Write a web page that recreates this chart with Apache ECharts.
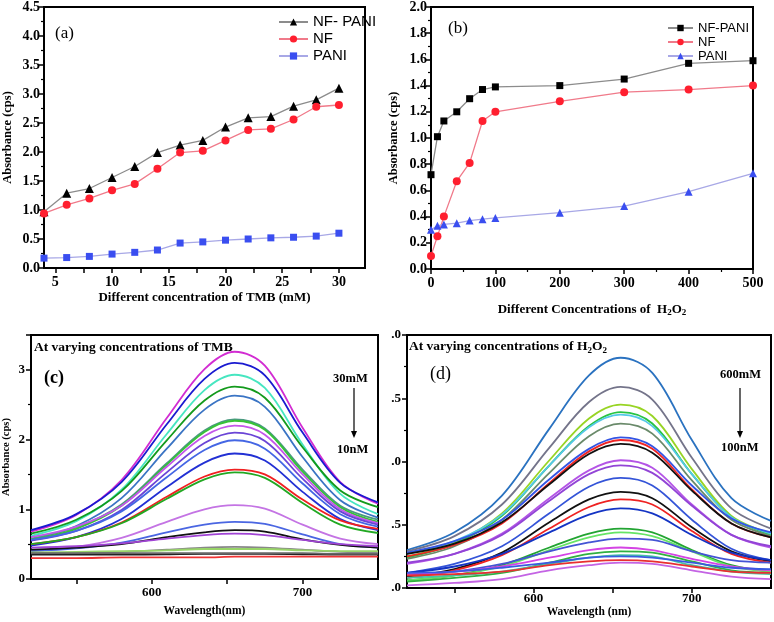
<!DOCTYPE html>
<html><head><meta charset="utf-8">
<script src="https://cdn.jsdelivr.net/npm/echarts@6/dist/echarts.min.js"></script>
<style>html,body{margin:0;padding:0;background:#fff}#c{width:774px;height:622px}</style>
</head><body><div id="c"></div>
<script>
// ---- panel (a): TMB concentration ----
const tmbConc = [4, 6, 8, 10, 12, 14, 16, 18, 20, 22, 24, 26, 28, 30];
const tmbNfPani = [0.97, 1.29, 1.37, 1.56, 1.75, 1.99, 2.12, 2.20, 2.43, 2.59, 2.61, 2.79, 2.90, 3.10];
const tmbNf = [0.94, 1.09, 1.20, 1.34, 1.45, 1.71, 1.99, 2.02, 2.20, 2.38, 2.40, 2.56, 2.78, 2.81];
const tmbPani = [0.17, 0.18, 0.20, 0.24, 0.27, 0.31, 0.43, 0.45, 0.48, 0.50, 0.52, 0.53, 0.55, 0.60];
const tmbTicks = [5, 7.5, 10, 12.5, 15, 17.5, 20, 22.5, 25, 27.5, 30];
const tmbLabels = [5, 10, 15, 20, 25, 30];

// ---- panel (b): H2O2 concentration ----
const h2o2Conc = [0, 10, 20, 40, 60, 80, 100, 200, 300, 400, 500];
const h2o2NfPani = [0.72, 1.01, 1.13, 1.20, 1.30, 1.37, 1.39, 1.40, 1.45, 1.57, 1.59];
const h2o2Nf = [0.10, 0.25, 0.40, 0.67, 0.81, 1.13, 1.20, 1.28, 1.35, 1.37, 1.40];
const h2o2Pani = [0.30, 0.33, 0.34, 0.35, 0.37, 0.38, 0.39, 0.43, 0.48, 0.59, 0.73];

// ---- panels (c),(d): spectra ----
const wavelengths = [520, 550, 580, 610, 635, 655, 675, 700, 725, 750];
const wlTicks = [550, 600, 650, 700];
const wlLabels = [600, 700];
const tmbSpectra = [
  [0.68, 0.92, 1.42, 2.31, 3.01, 3.26, 3.06, 2.17, 1.39, 1.08],
  [0.70, 0.93, 1.39, 2.22, 2.87, 3.10, 2.92, 2.10, 1.38, 1.10],
  [0.62, 0.83, 1.28, 2.08, 2.71, 2.93, 2.74, 1.93, 1.22, 0.93],
  [0.65, 0.85, 1.26, 1.99, 2.56, 2.76, 2.60, 1.89, 1.27, 1.03],
  [0.57, 0.76, 1.16, 1.87, 2.43, 2.63, 2.47, 1.75, 1.13, 0.88],
  [0.58, 0.74, 1.07, 1.66, 2.13, 2.29, 2.16, 1.57, 1.05, 0.85],
  [0.56, 0.72, 1.05, 1.64, 2.11, 2.27, 2.14, 1.54, 1.03, 0.82],
  [0.60, 0.75, 1.05, 1.61, 2.05, 2.20, 2.07, 1.50, 1.00, 0.80],
  [0.55, 0.69, 0.99, 1.53, 1.95, 2.10, 1.98, 1.44, 0.97, 0.78],
  [0.56, 0.69, 0.97, 1.46, 1.85, 1.99, 1.87, 1.37, 0.93, 0.75],
  [0.48, 0.60, 0.86, 1.32, 1.67, 1.80, 1.70, 1.25, 0.86, 0.70],
  [0.50, 0.60, 0.81, 1.18, 1.47, 1.57, 1.50, 1.14, 0.84, 0.72],
  [0.50, 0.60, 0.80, 1.15, 1.43, 1.53, 1.45, 1.09, 0.78, 0.66],
  [0.40, 0.46, 0.59, 0.82, 1.00, 1.06, 1.01, 0.78, 0.58, 0.50],
  [0.40, 0.44, 0.52, 0.67, 0.78, 0.82, 0.79, 0.64, 0.50, 0.45],
  [0.42, 0.45, 0.50, 0.60, 0.67, 0.70, 0.68, 0.57, 0.49, 0.45],
  [0.45, 0.47, 0.51, 0.58, 0.63, 0.65, 0.63, 0.56, 0.50, 0.47],
  [0.36, 0.37, 0.39, 0.42, 0.45, 0.46, 0.45, 0.42, 0.39, 0.38],
  [0.38, 0.39, 0.40, 0.41, 0.43, 0.43, 0.43, 0.41, 0.40, 0.40],
  [0.35, 0.35, 0.35, 0.355, 0.36, 0.36, 0.36, 0.355, 0.35, 0.35],
  [0.30, 0.30, 0.31, 0.31, 0.31, 0.32, 0.32, 0.32, 0.32, 0.32],
  [0.37, 0.37, 0.37, 0.37, 0.37, 0.37, 0.37, 0.37, 0.36, 0.36]
];
const tmbColors = ['#d22cd2', '#1a1ad0', '#46e6c0', '#139a1c', '#3a74c4', '#4a9a80', '#36c236', '#c456ea',
  '#6a44d6', '#4466e4', '#2230d4', '#f02020', '#22a822', '#c474e4', '#4a66e2', '#111111', '#a044d4',
  '#888888', '#98d468', '#222222', '#f03434', '#666666'];
const h2o2Spectra = [
  [0.30, 0.44, 0.73, 1.26, 1.68, 1.82, 1.70, 1.17, 0.71, 0.53],
  [0.29, 0.41, 0.66, 1.11, 1.47, 1.59, 1.49, 1.03, 0.63, 0.47],
  [0.25, 0.36, 0.59, 1.01, 1.34, 1.45, 1.36, 0.94, 0.57, 0.43],
  [0.24, 0.35, 0.57, 0.97, 1.28, 1.39, 1.30, 0.90, 0.56, 0.42],
  [0.27, 0.37, 0.58, 0.97, 1.27, 1.37, 1.28, 0.90, 0.56, 0.43],
  [0.23, 0.33, 0.54, 0.91, 1.20, 1.30, 1.22, 0.85, 0.54, 0.41],
  [0.28, 0.37, 0.54, 0.86, 1.10, 1.19, 1.12, 0.81, 0.55, 0.44],
  [0.25, 0.34, 0.51, 0.83, 1.08, 1.17, 1.10, 0.78, 0.51, 0.40],
  [0.27, 0.35, 0.52, 0.82, 1.06, 1.14, 1.07, 0.77, 0.51, 0.40],
  [0.19, 0.27, 0.43, 0.71, 0.93, 1.01, 0.95, 0.66, 0.42, 0.32],
  [0.20, 0.27, 0.42, 0.69, 0.90, 0.97, 0.91, 0.65, 0.42, 0.33],
  [0.12, 0.19, 0.33, 0.59, 0.80, 0.87, 0.81, 0.54, 0.31, 0.22],
  [0.09, 0.15, 0.28, 0.52, 0.70, 0.76, 0.71, 0.48, 0.29, 0.21],
  [0.08, 0.14, 0.26, 0.47, 0.64, 0.70, 0.66, 0.45, 0.27, 0.20],
  [0.12, 0.17, 0.27, 0.44, 0.58, 0.63, 0.59, 0.42, 0.28, 0.22],
  [0.06, 0.10, 0.18, 0.32, 0.43, 0.47, 0.44, 0.30, 0.18, 0.13],
  [0.06, 0.10, 0.17, 0.30, 0.40, 0.44, 0.41, 0.29, 0.17, 0.13],
  [0.10, 0.13, 0.19, 0.29, 0.36, 0.39, 0.38, 0.29, 0.22, 0.20],
  [0.11, 0.13, 0.17, 0.24, 0.30, 0.32, 0.30, 0.23, 0.17, 0.14],
  [0.05, 0.08, 0.12, 0.20, 0.27, 0.29, 0.28, 0.21, 0.14, 0.12],
  [0.08, 0.10, 0.13, 0.19, 0.24, 0.26, 0.25, 0.18, 0.13, 0.11],
  [0.12, 0.13, 0.16, 0.20, 0.24, 0.25, 0.24, 0.20, 0.16, 0.15],
  [0.10, 0.11, 0.13, 0.18, 0.21, 0.22, 0.21, 0.17, 0.13, 0.12],
  [0.02, 0.04, 0.07, 0.14, 0.18, 0.20, 0.19, 0.14, 0.09, 0.07]
];
const h2o2Colors = ['#2a72c0', '#74748a', '#98d424', '#28c444', '#54c8e8', '#6a8a6a', '#3454e4', '#f02424',
  '#111111', '#b454e6', '#9244d6', '#3454d8', '#111111', '#ee2222', '#1434c4', '#22a432', '#66e466',
  '#4454d4', '#d444e4', '#30b040', '#44c4a4', '#3a5ae0', '#e83030', '#c464e4'];

const SERIF = 'Liberation Serif';
const SANS = 'Liberation Sans';

function pairs(xs, ys) { return xs.map((x, i) => [x, ys[i]]); }

const grids = [
  { left: 42, top: 7, width: 323, height: 261 },
  { left: 431, top: 7, width: 322, height: 262 },
  { left: 31, top: 335, width: 347, height: 244 },
  { left: 407, top: 335, width: 364, height: 253 }
].map(g => Object.assign(g, { show: true, borderColor: '#000', borderWidth: 2, backgroundColor: 'transparent' }));

const axLine = { show: true, onZero: false, lineStyle: { color: '#000', width: 2 } };
const tick = { show: true, inside: false, length: 5, lineStyle: { color: '#000', width: 1.5 } };
const minor = (n) => ({ show: true, splitNumber: n, length: 3, lineStyle: { color: '#000', width: 1.2 } });
const lbl = (size) => ({ color: '#000', fontFamily: SERIF, fontWeight: 'bold', fontSize: size, margin: 7 });
const nameStyle = (size) => ({ color: '#000', fontFamily: SERIF, fontWeight: 'bold', fontSize: size });

const xAxis = [
  { gridIndex: 0, type: 'value', min: 4, max: 32.3, axisLine: axLine,
    axisTick: Object.assign({}, tick, { customValues: tmbTicks }),
    axisLabel: Object.assign(lbl(14), { customValues: tmbLabels }), splitLine: { show: false },
    name: 'Different concentration of TMB (mM)', nameLocation: 'middle', nameGap: 23, nameTextStyle: nameStyle(13) },
  { gridIndex: 1, type: 'value', min: 0, max: 500, interval: 100, axisLine: axLine, axisTick: tick,
    minorTick: minor(2), axisLabel: lbl(14), splitLine: { show: false },
    name: '{t|Different Concentrations of  H}{s|2}{t|O}{s|2}', nameLocation: 'middle', nameGap: 33,
    nameTextStyle: Object.assign(nameStyle(13), { rich: {
      t: { fontFamily: SERIF, fontWeight: 'bold', fontSize: 13, color: '#000' },
      s: { fontFamily: SERIF, fontWeight: 'bold', fontSize: 9, color: '#000', padding: [6, 0, 0, 0] } } }) },
  { gridIndex: 2, type: 'value', min: 520, max: 750, axisLine: axLine,
    axisTick: Object.assign({}, tick, { customValues: wlTicks }),
    axisLabel: Object.assign(lbl(13), { customValues: wlLabels }), splitLine: { show: false },
    name: 'Wavelength(nm)', nameLocation: 'middle', nameGap: 26, nameTextStyle: nameStyle(11.5) },
  { gridIndex: 3, type: 'value', min: 520, max: 750, axisLine: axLine,
    axisTick: Object.assign({}, tick, { customValues: wlTicks }),
    axisLabel: Object.assign(lbl(13), { customValues: wlLabels, margin: 4 }), splitLine: { show: false },
    name: 'Wavelength (nm)', nameLocation: 'middle', nameGap: 16, nameTextStyle: nameStyle(11.5) }
];

const yAxis = [
  { gridIndex: 0, type: 'value', min: 0, max: 4.5, interval: 0.5, axisLine: axLine, axisTick: tick,
    minorTick: minor(2), axisLabel: Object.assign(lbl(14), { margin: 4, formatter: v => v.toFixed(1) }), splitLine: { show: false },
    name: 'Absorbance (cps)', nameLocation: 'middle', nameGap: 30, nameTextStyle: nameStyle(12.5) },
  { gridIndex: 1, type: 'value', min: 0, max: 2, interval: 0.2, axisLine: axLine, axisTick: tick,
    minorTick: minor(2), axisLabel: Object.assign(lbl(14), { margin: 4, formatter: v => v.toFixed(1) }), splitLine: { show: false },
    name: 'Absorbance (cps)', nameLocation: 'middle', nameGap: 31, nameTextStyle: nameStyle(12.5) },
  { gridIndex: 2, type: 'value', min: 0, max: 3.5, interval: 1, axisLine: axLine, axisTick: tick,
    minorTick: minor(2), axisLabel: Object.assign(lbl(13), { margin: 6, showMaxLabel: false }), splitLine: { show: false },
    name: 'Absorbance (cps)', nameLocation: 'middle', nameGap: 19, nameTextStyle: nameStyle(10.5) },
  { gridIndex: 3, type: 'value', min: 0, max: 2, interval: 0.5, axisLine: axLine, axisTick: tick,
    minorTick: minor(2), axisLabel: Object.assign(lbl(13), { margin: 6, formatter: v => '.' + v.toFixed(1).split('.')[1] }),
    splitLine: { show: false } }
];

const grey = '#8c8c8c', pink = '#f07a8a', lilac = '#a8a8e6';
const series = [
  { name: 'NF- PANI', type: 'line', xAxisIndex: 0, yAxisIndex: 0, data: pairs(tmbConc, tmbNfPani),
    symbol: 'triangle', symbolSize: 9, itemStyle: { color: '#000' }, lineStyle: { color: grey, width: 1.3 } },
  { name: 'NF (a)', type: 'line', xAxisIndex: 0, yAxisIndex: 0, data: pairs(tmbConc, tmbNf),
    symbol: 'circle', symbolSize: 8, itemStyle: { color: '#ff1f2f' }, lineStyle: { color: pink, width: 1.3 } },
  { name: 'PANI (a)', type: 'line', xAxisIndex: 0, yAxisIndex: 0, data: pairs(tmbConc, tmbPani),
    symbol: 'rect', symbolSize: 7, itemStyle: { color: '#3a4ef0' }, lineStyle: { color: lilac, width: 1.3 } },
  { name: 'NF-PANI', type: 'line', xAxisIndex: 1, yAxisIndex: 1, data: pairs(h2o2Conc, h2o2NfPani),
    symbol: 'rect', symbolSize: 7, itemStyle: { color: '#000' }, lineStyle: { color: grey, width: 1.3 } },
  { name: 'NF (b)', type: 'line', xAxisIndex: 1, yAxisIndex: 1, data: pairs(h2o2Conc, h2o2Nf),
    symbol: 'circle', symbolSize: 8, itemStyle: { color: '#ff1f2f' }, lineStyle: { color: pink, width: 1.3 } },
  { name: 'PANI (b)', type: 'line', xAxisIndex: 1, yAxisIndex: 1, data: pairs(h2o2Conc, h2o2Pani),
    symbol: 'triangle', symbolSize: 8, itemStyle: { color: '#3a4ef0' }, lineStyle: { color: lilac, width: 1.3 } }
];
tmbSpectra.forEach((vals, i) => series.push({ type: 'line', xAxisIndex: 2, yAxisIndex: 2, data: pairs(wavelengths, vals),
  smooth: 0.35, showSymbol: false, silent: true, lineStyle: { color: tmbColors[i], width: 1.8 } }));
h2o2Spectra.forEach((vals, i) => series.push({ type: 'line', xAxisIndex: 3, yAxisIndex: 3, data: pairs(wavelengths, vals),
  smooth: 0.35, showSymbol: false, silent: true, lineStyle: { color: h2o2Colors[i], width: 1.8 } }));

const legendText = (size, lh) => ({ color: '#000', fontFamily: SANS, fontSize: size, lineHeight: lh });
const strip = n => n.replace(/ \((a|b)\)$/, '');
const legend = [
  { left: 273, top: 9, orient: 'vertical', itemWidth: 29, itemHeight: 9, itemGap: 1, textStyle: legendText(15, 16),
    formatter: strip, data: ['NF- PANI', 'NF (a)', 'PANI (a)'] },
  { left: 662, top: 16, orient: 'vertical', itemWidth: 25, itemHeight: 8, itemGap: 0, textStyle: legendText(13, 14),
    formatter: strip, data: ['NF-PANI', 'NF (b)', 'PANI (b)'] }
];

const txt = (x, y, text, size, extra) => ({ type: 'text', x, y, style: Object.assign({ text, fill: '#000',
  font: 'bold ' + size + 'px "' + SERIF + '"', textVerticalAlign: 'middle' }, extra || {}) });
const graphic = [
  { type: 'text', x: 55, y: 34, style: { text: '(a)', fill: '#000', font: '17px "' + SERIF + '"', textVerticalAlign: 'middle' } },
  { type: 'text', x: 448, y: 29, style: { text: '(b)', fill: '#000', font: '17px "' + SERIF + '"', textVerticalAlign: 'middle' } },
  txt(34, 348, 'At varying concentrations of TMB', 13.5),
  txt(44, 378, '(c)', 18),
  txt(333, 379, '30mM', 12.5),
  txt(337, 450, '10nM', 12.5),
  { type: 'line', shape: { x1: 354, y1: 388, x2: 354, y2: 432 }, style: { stroke: '#000', lineWidth: 1.2 } },
  { type: 'polygon', shape: { points: [[351, 431], [357, 431], [354, 438]] }, style: { fill: '#000' } },
  { type: 'text', x: 409, y: 347, style: { text: '{t|At varying concentrations of H}{s|2}{t|O}{s|2}', textVerticalAlign: 'middle',
      rich: { t: { font: 'bold 13.5px "' + SERIF + '"', fill: '#000' }, s: { font: 'bold 9px "' + SERIF + '"', fill: '#000', padding: [7, 0, 0, 0] } } } },
  txt(430, 374, '(d)', 18, { font: '18px "' + SERIF + '"' }),
  txt(720, 375, '600mM', 12.5),
  txt(721, 448, '100nM', 12.5),
  { type: 'line', shape: { x1: 740, y1: 388, x2: 740, y2: 432 }, style: { stroke: '#000', lineWidth: 1.2 } },
  { type: 'polygon', shape: { points: [[737, 431], [743, 431], [740, 438]] }, style: { fill: '#000' } }
];

const chart = echarts.init(document.getElementById('c'), null, { renderer: 'canvas' });
chart.setOption({ animation: false, backgroundColor: '#fff', grid: grids, xAxis, yAxis, series, legend, graphic });
</script></body></html>
